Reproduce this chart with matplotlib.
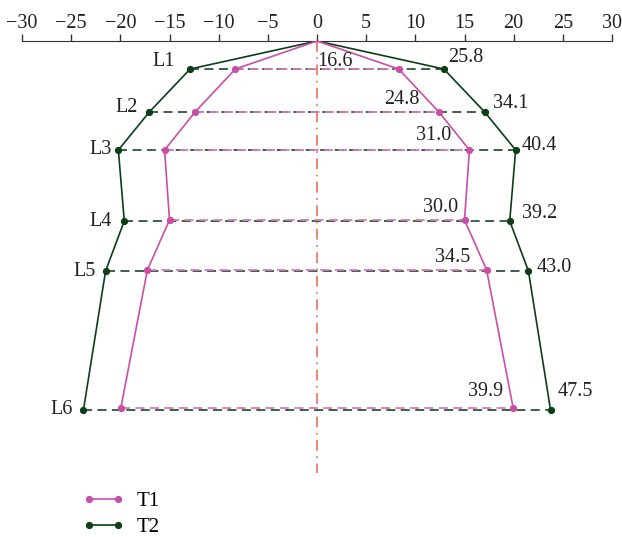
import numpy as np
import matplotlib.pyplot as plt

plt.rcParams['font.family'] = ['Liberation Serif', 'DejaVu Serif']
plt.rcParams['axes.unicode_minus'] = True

# 数据：各层宽度（全宽）及深度
levels = ['L1', 'L2', 'L3', 'L4', 'L5', 'L6']
t1_width = [16.6, 24.8, 31.0, 30.0, 34.5, 39.9]
t2_width = [25.8, 34.1, 40.4, 39.2, 43.0, 47.5]
t1_depth = [2.8, 7.1, 10.9, 17.9, 22.9, 36.7]
t2_depth = [2.8, 7.1, 10.9, 18.0, 23.0, 36.9]
xticks = [-30, -25, -20, -15, -10, -5, 0, 5, 10, 15, 20, 25, 30]

c1 = '#c94fa6'
c1_dash = '#d47bbd'
c2 = '#0b3d17'
c2_dash = '#2e5436'

W, H = 622, 537
fig = plt.figure(figsize=(W / 100, H / 100), dpi=100)
ax = fig.add_axes([22 / W, 0, (612 - 22) / W, (H - 41) / H])
ax.set_xlim(-30, 30)
ax.set_ylim((H - 41) / 10, 0)

for s in ['left', 'right', 'bottom']:
    ax.spines[s].set_visible(False)
ax.spines['top'].set_color('#333333')
ax.xaxis.tick_top()
ax.set_xticks(xticks)
ax.set_xticklabels([str(t) if t >= 0 else '\u2212' + str(-t) for t in xticks])
ax.tick_params(axis='x', direction='out', length=5, width=1, colors='#333333',
               labelsize=14.5, pad=1, labelcolor='#222222')
ax.set_yticks([])

# 中心线
ax.plot([0, 0], [0, 43.2], color='#f07a6a', lw=1.3, ls=(0, (6, 3, 1, 3)), zorder=1)

# 水平虚线
for w, d in zip(t2_width, t2_depth):
    ax.plot([-w / 2, w / 2], [d, d], color=c2_dash, lw=1.3, ls=(0, (5, 3)), zorder=2)
for w, d in zip(t1_width, t1_depth):
    ax.plot([-w / 2, w / 2], [d, d], color=c1_dash, lw=1.3, ls=(0, (5, 3)), zorder=2)


def outline(widths, depths):
    xs = [-w / 2 for w in widths[::-1]] + [0] + [w / 2 for w in widths]
    ys = list(depths[::-1]) + [0] + list(depths)
    return xs, ys

x1, y1 = outline(t1_width, t1_depth)
x2, y2 = outline(t2_width, t2_depth)
ax.plot(x2, y2, color=c2, lw=1.2, zorder=3)
ax.plot(x1, y1, color=c1, lw=1.2, zorder=3)
ax.plot([w / 2 for w in t2_width] + [-w / 2 for w in t2_width], t2_depth * 2,
        'o', color=c2, ms=4.2, zorder=4)
ax.plot([w / 2 for w in t1_width] + [-w / 2 for w in t1_width], t1_depth * 2,
        'o', color=c1, ms=4.2, zorder=4)

# 标注（像素偏移）
t2_off = [(4, 11), (8, 8), (6, 5), (12, 7), (8, 3), (7, 18)]
t1_off = [(-46, 8), (-19, 12), (-18, 15), (-6, 12), (-16, 13), (-10, 16)]
lv_off = [(-15, 7), (-12, 4), (-7, 1), (-12, 0), (-10, 0), (-11, 1)]
fs = 14.5
for i in range(len(levels)):
    ax.annotate(f'{t2_width[i]:.1f}', (t2_width[i] / 2, t2_depth[i]), xytext=t2_off[i],
                textcoords='offset pixels', ha='left', va='center', fontsize=fs, color='#222222')
    ax.annotate(f'{t1_width[i]:.1f}', (t1_width[i] / 2, t1_depth[i]), xytext=t1_off[i],
                textcoords='offset pixels', ha='right', va='center', fontsize=fs, color='#222222')
    ax.annotate(levels[i], (-t2_width[i] / 2, t2_depth[i]), xytext=lv_off[i],
                textcoords='offset pixels', ha='right', va='center', fontsize=fs, color='#222222')

h1, = ax.plot([], [], '-o', color=c1, ms=4.2, lw=1.2, label='T1')
h2, = ax.plot([], [], '-o', color=c2, ms=4.2, lw=1.2, label='T2')
fig.legend(handles=[h1, h2], loc='lower left', bbox_to_anchor=(64 / W, -19 / H),
           frameon=False, fontsize=15, numpoints=2, handlelength=2.0,
           handletextpad=0.6, labelspacing=0.3)

fig.savefig('out.png', dpi=100)
